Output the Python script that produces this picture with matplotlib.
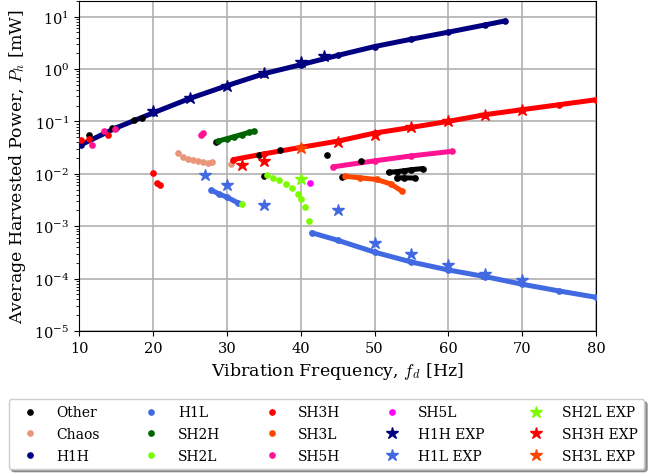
import numpy as np
import matplotlib.pyplot as plt

plt.rcParams['font.family'] = 'DejaVu Serif'
plt.rcParams['mathtext.fontset'] = 'cm'

# frequency [Hz] / harvested power [mW]
other_f = [11.4, 14.4, 17.4, 18.5, 28.5, 34.3, 35.1, 37.2, 43.6, 45.6, 48.1]
other_p = [0.056, 0.075, 0.105, 0.117, 0.040, 0.0233, 0.009, 0.029, 0.0226, 0.0086, 0.0174]
other_seg1_f = [51.9, 53.0, 54.0, 55.0, 56.5]
other_seg1_p = [0.0107, 0.0110, 0.0115, 0.0120, 0.0126]
other_seg2_f = [53.0, 54.0, 55.5]
other_seg2_p = [0.0084, 0.0084, 0.0083]

chaos_f = [23.4, 24.1, 24.8, 25.4, 26.1, 26.8, 27.4, 28.0, 30.6]
chaos_p = [0.0247, 0.0211, 0.0195, 0.0187, 0.0179, 0.0169, 0.0162, 0.0166, 0.0155]

h1h_f = [10.3, 15, 20, 25, 30, 35, 40, 45, 50, 55, 60, 65, 67.7]
h1h_p = [0.0361, 0.0752, 0.145, 0.275, 0.481, 0.813, 1.21, 1.82, 2.69, 3.72, 5.07, 6.98, 8.32]

h1l_f = [41.5, 45, 50, 55, 60, 65, 70, 75, 80]
h1l_p = [7.5e-4, 5.4e-4, 3.2e-4, 2.07e-4, 1.46e-4, 1.09e-4, 7.8e-5, 5.8e-5, 4.4e-5]
h1l_left_f = [27.9, 29.0, 30.0, 31.5]
h1l_left_p = [0.0049, 0.0041, 0.0036, 0.0028]

sh2h_f = [28.8, 30, 31, 32, 33, 33.7]
sh2h_p = [0.042, 0.0468, 0.0513, 0.0562, 0.0617, 0.065]

sh2l_f = [32.1, 35.5, 36.3, 37.1, 38.0, 38.8, 39.6, 40.0, 40.6, 41.1]
sh2l_p = [0.0026, 0.0093, 0.0084, 0.0075, 0.0064, 0.0054, 0.0042, 0.0033, 0.0023, 0.00127]

sh3h_f = [30.9, 35, 40, 45, 50, 55, 60, 65, 70, 75, 80]
sh3h_p = [0.0187, 0.024, 0.032, 0.042, 0.060, 0.077, 0.1005, 0.135, 0.168, 0.209, 0.26]
sh3h_pts_f = [10.3, 11.4, 13.9, 20.0, 20.5, 21.0]
sh3h_pts_p = [0.045, 0.047, 0.054, 0.0105, 0.0066, 0.006]

sh3l_f = [46.0, 48.0, 50.3, 52.2, 53.7]
sh3l_p = [0.009, 0.0084, 0.0078, 0.0064, 0.0047]

sh5h_f = [44.4, 50, 55, 60.5]
sh5h_p = [0.0136, 0.0177, 0.022, 0.0269]
sh5h_pts_f = [11.8, 13.4, 14.9, 26.5, 26.8]
sh5h_pts_p = [0.036, 0.067, 0.073, 0.054, 0.060]

sh5l_f = [41.2]
sh5l_p = [0.0067]

h1h_exp_f = [20, 25, 30, 35, 40, 43.2]
h1h_exp_p = [0.156, 0.28, 0.485, 0.84, 1.34, 1.79]
h1l_exp_f = [27, 30, 35, 45, 50, 55, 60, 65, 70]
h1l_exp_p = [0.0093, 0.0060, 0.0025, 0.0020, 4.7e-4, 3.0e-4, 1.8e-4, 1.2e-4, 9.4e-5]
sh2l_exp_f = [40]
sh2l_exp_p = [0.008]
sh3h_exp_f = [32, 35, 45, 50, 55, 60, 65, 70]
sh3h_exp_p = [0.015, 0.0179, 0.040, 0.056, 0.077, 0.10, 0.134, 0.168]
sh3l_exp_f = [40]
sh3l_exp_p = [0.0313]

fig = plt.figure(figsize=(6.53, 4.77), dpi=100)
ax = fig.add_axes([0.121, 0.304, 0.792, 0.692])

ms = 3.8
lw = 3.6
line_kw = dict(lw=lw, solid_capstyle='round', zorder=2)

# continuous branches drawn as thick lines under the dots
ax.plot(h1h_f, h1h_p, color='navy', **line_kw)
ax.plot(h1l_f, h1l_p, color='royalblue', **line_kw)
ax.plot(h1l_left_f, h1l_left_p, color='royalblue', **line_kw)
ax.plot(sh2h_f, sh2h_p, color='darkgreen', **line_kw)
ax.plot(sh3h_f, sh3h_p, color='red', **line_kw)
ax.plot(sh3l_f, sh3l_p, color='orangered', **line_kw)
ax.plot(sh5h_f, sh5h_p, color='deeppink', **line_kw)
ax.plot(other_seg1_f, other_seg1_p, color='black', **line_kw)
ax.plot(other_seg2_f, other_seg2_p, color='black', **line_kw)

dot = dict(ls='none', marker='o', ms=ms, zorder=3)
handles = []
handles += ax.plot(other_f + other_seg1_f + other_seg2_f, other_p + other_seg1_p + other_seg2_p,
                   color='black', label='Other', **dot)
handles += ax.plot(chaos_f, chaos_p, color='darksalmon', label='Chaos', **dot)
handles += ax.plot(h1h_f, h1h_p, color='navy', label='H1H', **dot)
handles += ax.plot(h1l_left_f + h1l_f, h1l_left_p + h1l_p, color='royalblue', label='H1L', **dot)
handles += ax.plot(sh2h_f, sh2h_p, color='darkgreen', label='SH2H', **dot)
handles += ax.plot(sh2l_f, sh2l_p, color='lawngreen', label='SH2L', **dot)
handles += ax.plot(sh3h_pts_f + sh3h_f, sh3h_pts_p + sh3h_p, color='red', label='SH3H', **dot)
handles += ax.plot(sh3l_f, sh3l_p, color='orangered', label='SH3L', **dot)
handles += ax.plot(sh5h_pts_f + sh5h_f, sh5h_pts_p + sh5h_p, color='deeppink', label='SH5H', **dot)
handles += ax.plot(sh5l_f, sh5l_p, color='magenta', label='SH5L', **dot)

star = dict(ls='none', marker='*', ms=9, zorder=4)
handles += ax.plot(h1h_exp_f, h1h_exp_p, color='navy', label='H1H EXP', **star)
handles += ax.plot(h1l_exp_f, h1l_exp_p, color='royalblue', label='H1L EXP', **star)
handles += ax.plot(sh2l_exp_f, sh2l_exp_p, color='lawngreen', label='SH2L EXP', **star)
handles += ax.plot(sh3h_exp_f, sh3h_exp_p, color='red', label='SH3H EXP', **star)
handles += ax.plot(sh3l_exp_f, sh3l_exp_p, color='orangered', label='SH3L EXP', **star)

ax.set_yscale('log')
ax.set_xlim(10, 80)
ax.set_ylim(1e-5, 20)
ax.set_yticks([1e-5, 1e-4, 1e-3, 1e-2, 1e-1, 1e0, 1e1])
ax.grid(True, which='major', color='#b0b0b0', lw=1.2)
ax.set_axisbelow(True)
ax.tick_params(labelsize=10.5)
ax.set_xlabel('Vibration Frequency, $f_d$ [Hz]', fontsize=12.5)
ax.set_ylabel('Average Harvested Power, $P_h$ [mW]', fontsize=12.5)

fig.legend(handles=handles, loc='center', bbox_to_anchor=(0.5, 0.088), ncol=5,
           fontsize=10, shadow=True, markerscale=1.0, handlelength=2.2,
           columnspacing=2.6, labelspacing=0.55, borderpad=0.45, framealpha=1)

fig.savefig('out.png', dpi=100)
